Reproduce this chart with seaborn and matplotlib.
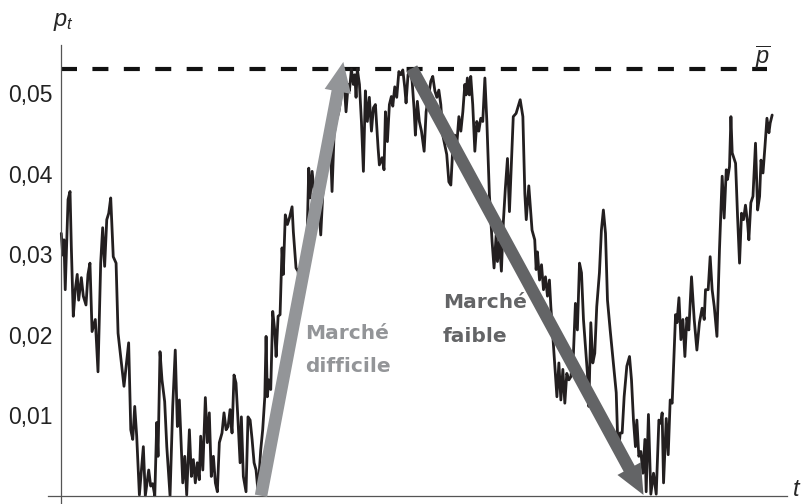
import numpy as np
import pandas as pd
import matplotlib
matplotlib.use("Agg")
import matplotlib.pyplot as plt
from matplotlib.ticker import MultipleLocator, FixedLocator, FuncFormatter
import seaborn as sns

# time steps and price level (per mille)
t_vals = [
    0.2, 1.2, 2.1, 3.0, 4.0, 5.0, 6.4, 7.3, 8.7, 10.1, 11.5, 12.5, 14.4, 15.8, 17.7,
    19.1, 20.5, 22.0, 24.3, 26.2, 28.1, 29.5, 30.9, 32.4, 33.8, 35.2, 37.0, 39.0,
    40.4, 44.6, 47.9, 49.4, 50.8, 52.2, 53.6, 55.5, 58.3, 59.7, 62.1, 63.5, 64.9,
    66.4, 67.8, 68.7, 70.1, 71.5, 73.4, 74.9, 77.2, 79.1, 80.9, 82.4, 83.8, 86.2,
    87.6, 89.0, 90.9, 92.3, 93.7, 95.1, 96.5, 97.9, 98.9, 100.4, 102.2, 103.6,
    105.0, 106.4, 107.9, 109.3, 110.7, 112.1, 114.0, 115.4, 116.9, 118.3, 119.7,
    121.1, 122.5, 123.9, 125.4, 126.8, 127.7, 129.1, 131.0, 132.4, 133.9, 135.3,
    136.7, 138.1, 139.5, 141.4, 142.8, 144.3, 145.2, 146.1, 147.1, 148.5, 149.9,
    151.3, 152.3, 153.7, 155.1, 156.5, 157.4, 158.8, 160.3, 161.7, 163.6, 164.5,
    166.4, 167.8, 169.3, 171.6, 174.0, 175.4, 176.3, 177.8, 179.2, 181.1, 182.5,
    183.9, 185.3, 187.2, 189.1, 190.5, 191.9, 193.3, 194.8, 196.7, 198.5, 200.4,
    201.8, 203.3, 204.2, 205.6, 207.0, 208.0, 208.9, 209.8, 211.3, 212.7, 214.1,
    215.5, 216.9, 218.3, 219.8, 221.2, 222.6, 224.5, 225.4, 227.3, 228.7, 229.7,
    231.1, 232.5, 233.9, 234.9, 236.3, 237.7, 239.2, 240.6, 242.0, 243.4, 244.3,
    245.7, 247.2, 248.6, 250.0, 250.9, 252.3, 253.7, 255.2, 257.1, 258.5, 260.4,
    261.8, 263.2, 264.7, 266.1, 267.5, 268.9, 270.3, 271.7, 273.1, 274.6, 276.0,
    277.4, 278.8, 280.2, 281.7, 283.1, 284.5, 285.9, 286.8, 287.7, 289.1, 290.1,
    291.5, 293.0, 294.4, 295.8, 297.2, 298.6, 300.1, 301.5, 303.3, 305.2, 306.6,
    308.1, 309.0, 310.4, 311.8, 313.2, 314.6, 316.1, 317.5, 320.2, 322.2, 325.1,
    327.0, 328.4, 329.4, 331.2, 333.5, 335.4, 336.4, 337.3, 338.8, 340.2, 341.6,
    343.0, 344.4, 345.8, 346.8, 348.2, 349.6, 351.1, 352.5, 353.9, 355.3, 356.7,
    358.1, 359.6, 361.0, 362.8, 364.2, 365.6, 367.1, 368.5, 369.9, 371.3, 372.7,
    373.7, 375.1, 376.5, 377.9, 379.3, 381.2, 382.6, 384.0, 385.5, 386.9, 388.8,
    391.1, 393.1, 394.5, 395.9, 397.3, 398.7, 400.6, 402.5, 403.9, 405.3, 406.7,
    407.7, 409.1, 410.5, 412.0, 413.4, 414.3, 415.9, 417.6, 419.5, 421.4, 423.3,
    424.7, 425.6, 426.6, 428.5, 429.9, 431.3, 432.7, 435.1, 436.1, 437.5, 438.9,
    440.3, 441.7, 443.1, 444.5, 446.4, 448.3, 450.2, 452.0, 453.9, 455.4, 456.3,
    458.2, 459.6, 461.0, 462.5, 464.4, 466.2, 468.1, 469.5, 471.0, 471.9, 473.3,
    474.3, 475.2, 477.6, 479.0, 480.4, 481.8, 483.2, 484.6, 486.1, 487.0, 488.4,
    489.9, 491.7, 493.2, 494.6, 495.6, 497.0, 498.4, 499.8, 501.2, 502.1, 503.5,
]
p_milli = [
    32.6, 29.9, 31.8, 25.6, 31.0, 36.8, 37.8, 31.0, 22.3, 25.6, 27.5, 24.3, 27.1, 24.8, 23.7,
    27.5, 28.9, 20.4, 21.9, 15.4, 28.9, 33.3, 28.5, 34.3, 35.1, 37.0, 29.7, 28.9,
    20.2, 13.6, 19.0, 8.2, 7.0, 11.1, 7.4, 0.1, 6.1, 0.0, 3.2, 1.2, 1.5,
    0.0, 9.1, 4.9, 17.9, 14.4, 11.7, 6.1, 0.0, 11.1, 18.1, 8.6, 11.9, 1.6,
    4.9, 0.1, 8.2, 2.4, 4.5, 1.6, 4.1, 2.0, 7.4, 3.2, 12.2, 6.6,
    10.3, 2.4, 4.9, 1.6, 0.5, 6.6, 7.8, 10.3, 8.2, 8.6, 10.7,
    7.8, 15.0, 14.0, 9.1, 4.1, 9.8, 2.4, 0.5, 9.8, 9.4, 7.0,
    4.1, 3.2, 0.5, 5.7, 8.2, 12.3, 19.8, 12.3, 14.4, 13.2, 22.9,
    20.6, 17.3, 22.3, 22.5, 30.8, 27.5, 34.9, 33.7, 34.5, 35.9, 32.8,
    28.3, 27.9, 25.8, 27.5, 30.3, 40.7, 37.0, 40.3, 37.8, 39.0, 35.8,
    32.4, 37.4, 40.3, 41.5, 44.8, 37.8, 44.8, 46.5, 47.7, 49.8, 51.5,
    47.7, 51.1, 50.3, 53.0, 51.1, 52.3, 49.5, 53.0, 51.1, 46.5, 40.3,
    50.3, 46.5, 49.5, 45.3, 48.2, 48.6, 43.2, 41.1, 42.0, 40.5, 47.7,
    44.0, 48.6, 49.6, 48.4, 50.8, 49.5, 52.7, 52.3, 52.9, 50.7, 48.8,
    52.3, 53.0, 51.5, 48.0, 44.8, 49.0, 46.5, 45.3, 42.8, 47.7, 49.8,
    51.5, 52.1, 50.3, 49.5, 50.4, 48.6, 44.8, 43.6, 42.4, 39.0, 38.6,
    43.2, 44.8, 43.6, 47.1, 45.3, 47.7, 51.1, 49.8, 51.9, 49.8, 52.1,
    48.6, 42.8, 46.5, 45.3, 46.9, 46.5, 51.9, 46.5, 37.4, 31.6, 28.3,
    32.4, 29.1, 31.6, 27.9, 34.1, 38.2, 41.9, 35.3, 47.1, 47.5, 49.2,
    47.1, 37.5, 34.3, 38.5, 33.0, 31.8, 28.1, 30.3, 26.8, 28.7, 25.6,
    27.2, 24.8, 26.8, 23.5, 19.8, 16.1, 12.3, 16.5, 11.9, 15.7, 11.5,
    15.2, 14.4, 14.8, 17.7, 23.9, 20.6, 28.9, 27.7, 21.9, 18.5, 15.2,
    11.1, 21.5, 16.5, 17.7, 23.5, 27.7, 33.0, 35.5, 32.6, 24.3, 20.6,
    16.5, 12.8, 4.9, 7.8, 7.8, 12.3, 16.1, 17.3, 14.4, 9.4, 6.1,
    9.4, 4.9, 5.5, 2.8, 7.0, 0.5, 10.1, 0.2, 2.8, 0.2, 9.4,
    9.0, 10.3, 1.6, 9.6, 5.1, 11.9, 11.5, 22.5, 21.5, 24.6, 19.4,
    21.9, 17.3, 22.1, 20.6, 27.2, 21.9, 18.1, 21.5, 23.3, 21.9, 25.6,
    25.6, 29.7, 25.6, 23.5, 19.8, 30.6, 39.7, 34.5, 40.5, 39.3, 40.9,
    47.1, 42.6, 41.3, 34.7, 28.9, 35.1, 34.3, 36.1, 33.9, 31.8, 36.4,
    37.2, 43.8, 35.5, 37.2, 41.7, 40.1, 43.4, 46.9, 45.1, 46.3, 47.3,
]
p_bar = 0.053
dash_span = [0, 500]

# arrows: (t, p) tail -> head
arrow_hard = [(141.6, 0.0), (199.9, 0.0539)]
arrow_weak = [(248.3, 0.0531), (412.4, 0.0001)]

labels_hard = ["Marché", "difficile"]
labels_weak = ["Marché", "faible"]

LIGHT = "#939598"
DARK = "#636466"
INK = "#231f20"
AXIS = "#555555"

sns.set_theme(style="white")
plt.rcParams["font.family"] = ["Liberation Sans", "DejaVu Sans"]
plt.rcParams["mathtext.fontset"] = "custom"
plt.rcParams["mathtext.it"] = "Liberation Sans:italic"
plt.rcParams["mathtext.rm"] = "Liberation Sans"

df = pd.DataFrame({"t": t_vals, "p": np.array(p_milli) / 1000})

fig = plt.figure(figsize=(8.08, 5.04), dpi=100)
ax = fig.add_axes([48 / 808, 1 / 504, 739 / 808, 458 / 504])

sns.lineplot(data=df, x="t", y="p", ax=ax, color=INK, lw=2.0,
             sort=False, estimator=None, zorder=2)

ax.plot(dash_span, [p_bar, p_bar], color="#111111", lw=3,
        linestyle=(0, (3.84, 3.7)), solid_capstyle="butt",
        dash_capstyle="butt", zorder=1)

for (t0, p0), (t1, p1), col in [(arrow_hard[0], arrow_hard[1], LIGHT),
                                 (arrow_weak[0], arrow_weak[1], DARK)]:
    ax.annotate("", xy=(t1, p1), xytext=(t0, p0),
                arrowprops=dict(arrowstyle="simple,head_length=1.8,head_width=1.6,tail_width=0.75",
                                fc=col, ec="none", shrinkA=0, shrinkB=0),
                zorder=3)

txt_kw = dict(fontsize=14.5, fontweight="bold", family="DejaVu Sans",
              ha="left", va="center", zorder=4)
ax.text(172.8, 0.0202, labels_hard[0], color=LIGHT, **txt_kw)
ax.text(172.8, 0.0160, labels_hard[1], color=LIGHT, **txt_kw)
ax.text(270.5, 0.0240, labels_weak[0], color=DARK, **txt_kw)
ax.text(270.5, 0.01975, labels_weak[1], color=DARK, **txt_kw)

ax.text(1.8, 0.0589, r"$p_t$", fontsize=17, ha="center", va="center", clip_on=False)
ax.text(497, 0.0545, r"$\overline{p}$", fontsize=17, ha="center", va="center", clip_on=False)
ax.text(521, -0.0007, r"$t$", fontsize=17, ha="center", va="bottom", clip_on=False)

ax.set_xlim(-9.2, 514)
ax.set_ylim(-0.0009, 0.056)

for side in ["top", "right"]:
    ax.spines[side].set_visible(False)
ax.spines["left"].set_position(("data", 0))
ax.spines["bottom"].set_position(("data", 0))
for side in ["left", "bottom"]:
    ax.spines[side].set_color(AXIS)
    ax.spines[side].set_linewidth(0.9)

ax.yaxis.set_major_locator(FixedLocator([0.01, 0.02, 0.03, 0.04, 0.05]))
ax.yaxis.set_minor_locator(MultipleLocator(0.002))
ax.yaxis.set_major_formatter(FuncFormatter(lambda v, _: f"{v:.2f}".replace(".", ",")))
ax.xaxis.set_major_locator(MultipleLocator(100))
ax.xaxis.set_minor_locator(MultipleLocator(25))
ax.xaxis.set_major_formatter(FuncFormatter(lambda v, _: ""))

ax.tick_params(axis="both", which="both", direction="in", color=AXIS, width=0.9)
ax.tick_params(axis="y", which="major", length=6, labelsize=16.5, pad=6, labelcolor="#222222")
ax.tick_params(axis="y", which="minor", length=3.5)
ax.tick_params(axis="x", which="major", length=5.5)
ax.tick_params(axis="x", which="minor", length=3.5)
ax.set_xlabel("")
ax.set_ylabel("")

fig.savefig("out.png", dpi=100)
